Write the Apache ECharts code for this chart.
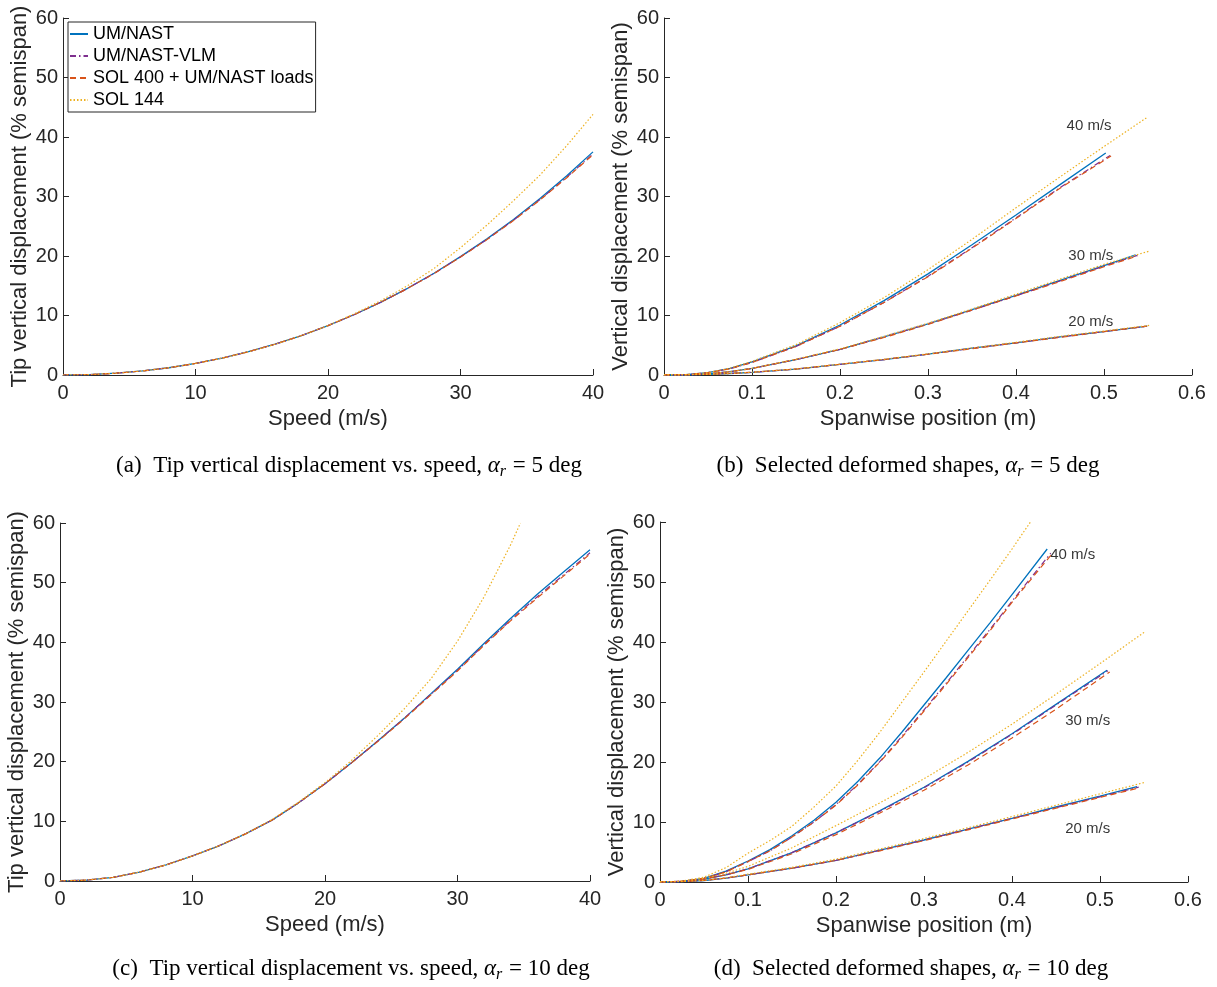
<!DOCTYPE html>
<html><head><meta charset="utf-8">
<script src="https://cdn.jsdelivr.net/npm/echarts@6/dist/echarts.min.js"></script>
<style>html,body{margin:0;padding:0;background:#fff;}#c{width:1217px;height:987px;}</style>
</head><body><div id="c"></div>
<script>
// ---------- data ----------
const NAMES = ['UM/NAST', 'UM/NAST-VLM', 'SOL 400 + UM/NAST loads', 'SOL 144'];

// (a) tip displacement vs speed, alpha = 5 deg
const SPEED = [0,2,4,6,8,10,12,14,16,18,20,22,24,26,28,30,32,34,36,38,40];
const A_NAST = [0,0.07,0.30,0.68,1.22,1.94,2.83,3.91,5.17,6.63,8.30,10.17,12.25,14.57,17.10,19.90,22.88,26.15,29.66,33.43,37.50];
const A_VLM  = [0,0.07,0.30,0.68,1.22,1.94,2.83,3.91,5.17,6.63,8.30,10.17,12.25,14.55,17.06,19.85,22.80,26.02,29.48,33.20,37.15];
const A_S400 = [0,0.07,0.30,0.68,1.22,1.94,2.83,3.91,5.17,6.63,8.30,10.16,12.24,14.54,17.04,19.82,22.76,25.97,29.42,33.12,37.02];
const A_S144 = [0,0.07,0.30,0.68,1.22,1.94,2.83,3.91,5.17,6.63,8.32,10.30,12.50,15.00,17.90,21.40,25.20,29.30,33.60,38.50,43.80];

// (c) tip displacement vs speed, alpha = 10 deg
const C_NAST = [0,0.15,0.6,1.5,2.7,4.2,5.9,7.9,10.2,13.1,16.3,19.8,23.5,27.3,31.4,35.5,39.8,44.0,48.0,51.8,55.5];
const C_VLM  = [0,0.15,0.6,1.5,2.7,4.2,5.9,7.9,10.2,13.1,16.3,19.8,23.5,27.3,31.3,35.3,39.6,43.7,47.6,51.3,55.0];
const C_S400 = [0,0.15,0.6,1.5,2.7,4.2,5.9,7.9,10.2,13.1,16.3,19.8,23.4,27.2,31.2,35.2,39.5,43.6,47.4,51.1,54.8];
const SPEED_C144 = [0,2,4,6,8,10,12,14,16,18,20,22,24,26,28,30,32,34,34.75];
const C_S144 = [0,0.15,0.6,1.5,2.7,4.2,5.9,7.9,10.3,13.2,16.5,20.2,24.4,28.9,33.9,40.2,47.6,56.3,60];

// (b) deformed shapes, alpha = 5 deg : [spanwise position (m), displacement (% semispan)]
const B40_NAST = [[0,0],[0.025,0.05],[0.05,0.4],[0.075,1.1],[0.1,2.2],[0.15,4.9],[0.2,8.4],[0.25,12.5],[0.3,17.0],[0.35,21.9],[0.4,26.9],[0.45,32.0],[0.502,37.3]];
const B40_VLM  = [[0,0],[0.025,0.05],[0.05,0.4],[0.075,1.05],[0.1,2.1],[0.15,4.8],[0.2,8.2],[0.25,12.2],[0.3,16.6],[0.35,21.4],[0.4,26.4],[0.45,31.5],[0.507,36.9]];
const B40_S400 = [[0,0],[0.025,0.05],[0.05,0.4],[0.075,1.05],[0.1,2.1],[0.15,4.8],[0.2,8.2],[0.25,12.2],[0.3,16.5],[0.35,21.3],[0.4,26.3],[0.45,31.4],[0.508,36.8]];
const B40_S144 = [[0,0],[0.025,0.05],[0.05,0.4],[0.075,1.15],[0.1,2.3],[0.15,5.1],[0.2,8.8],[0.25,13.0],[0.3,17.7],[0.35,22.8],[0.4,28.1],[0.45,33.3],[0.5,38.4],[0.55,43.4]];
const B30_NAST = [[0,0],[0.025,0.03],[0.05,0.2],[0.075,0.55],[0.1,1.1],[0.15,2.6],[0.2,4.3],[0.25,6.4],[0.3,8.6],[0.35,11.0],[0.4,13.4],[0.45,15.9],[0.5,18.4],[0.536,20.2]];
const B30_VLM  = [[0,0],[0.025,0.03],[0.05,0.2],[0.075,0.55],[0.1,1.1],[0.15,2.6],[0.2,4.3],[0.25,6.4],[0.3,8.6],[0.35,10.9],[0.4,13.3],[0.45,15.8],[0.5,18.3],[0.538,20.1]];
const B30_S400 = [[0,0],[0.025,0.03],[0.05,0.2],[0.075,0.55],[0.1,1.1],[0.15,2.6],[0.2,4.3],[0.25,6.3],[0.3,8.5],[0.35,10.9],[0.4,13.3],[0.45,15.7],[0.5,18.2],[0.538,20.0]];
const B30_S144 = [[0,0],[0.025,0.03],[0.05,0.2],[0.075,0.56],[0.1,1.12],[0.15,2.65],[0.2,4.4],[0.25,6.5],[0.3,8.7],[0.35,11.1],[0.4,13.6],[0.45,16.1],[0.5,18.6],[0.551,20.8]];
const B20_NAST = [[0,0],[0.025,0.02],[0.05,0.1],[0.075,0.25],[0.1,0.45],[0.15,1.0],[0.2,1.8],[0.25,2.6],[0.3,3.5],[0.35,4.5],[0.4,5.4],[0.45,6.4],[0.5,7.3],[0.549,8.2]];
const B20_VLM  = [[0,0],[0.025,0.02],[0.05,0.1],[0.075,0.25],[0.1,0.45],[0.15,1.0],[0.2,1.8],[0.25,2.6],[0.3,3.5],[0.35,4.5],[0.4,5.4],[0.45,6.4],[0.5,7.3],[0.549,8.2]];
const B20_S400 = [[0,0],[0.025,0.02],[0.05,0.1],[0.075,0.25],[0.1,0.45],[0.15,1.0],[0.2,1.8],[0.25,2.6],[0.3,3.5],[0.35,4.4],[0.4,5.4],[0.45,6.3],[0.5,7.3],[0.549,8.2]];
const B20_S144 = [[0,0],[0.025,0.02],[0.05,0.1],[0.075,0.25],[0.1,0.46],[0.15,1.02],[0.2,1.82],[0.25,2.65],[0.3,3.55],[0.35,4.55],[0.4,5.5],[0.45,6.5],[0.5,7.4],[0.552,8.35]];

// (d) deformed shapes, alpha = 10 deg
const D40_NAST = [[0,0],[0.025,0.1],[0.05,0.6],[0.075,1.8],[0.1,3.5],[0.125,5.4],[0.15,7.7],[0.175,10.3],[0.2,13.3],[0.225,16.8],[0.25,20.7],[0.275,25.0],[0.3,29.5],[0.325,34.0],[0.35,38.6],[0.375,43.2],[0.4,47.9],[0.44,55.5]];
const D40_VLM  = [[0,0],[0.025,0.1],[0.05,0.6],[0.075,1.7],[0.1,3.4],[0.125,5.2],[0.15,7.5],[0.175,10.0],[0.2,12.9],[0.225,16.3],[0.25,20.1],[0.275,24.3],[0.3,28.7],[0.325,33.1],[0.35,37.6],[0.375,42.1],[0.4,46.8],[0.444,54.8]];
const D40_S400 = [[0,0],[0.025,0.1],[0.05,0.6],[0.075,1.7],[0.1,3.4],[0.125,5.2],[0.15,7.5],[0.175,10.0],[0.2,12.8],[0.225,16.2],[0.25,20.0],[0.275,24.1],[0.3,28.5],[0.325,32.9],[0.35,37.4],[0.375,41.9],[0.4,46.6],[0.445,54.6]];
const D40_S144 = [[0,0],[0.025,0.15],[0.05,0.8],[0.075,2.4],[0.1,4.8],[0.125,6.9],[0.15,9.3],[0.175,12.5],[0.2,16.0],[0.225,20.3],[0.25,25.0],[0.275,30.0],[0.3,35.0],[0.325,40.1],[0.35,45.2],[0.375,50.3],[0.4,55.5],[0.421,60]];
const D30_NAST = [[0,0],[0.025,0.1],[0.05,0.5],[0.075,1.2],[0.1,2.2],[0.15,4.9],[0.2,8.2],[0.25,11.9],[0.3,15.8],[0.35,20.1],[0.4,24.7],[0.45,29.6],[0.508,35.3]];
const D30_VLM  = [[0,0],[0.025,0.1],[0.05,0.5],[0.075,1.2],[0.1,2.2],[0.15,4.9],[0.2,8.2],[0.25,11.8],[0.3,15.7],[0.35,20.0],[0.4,24.6],[0.45,29.5],[0.509,35.2]];
const D30_S400 = [[0,0],[0.025,0.1],[0.05,0.5],[0.075,1.2],[0.1,2.1],[0.15,4.7],[0.2,7.9],[0.25,11.5],[0.3,15.3],[0.35,19.5],[0.4,24.0],[0.45,28.8],[0.511,35.0]];
const D30_S144 = [[0,0],[0.025,0.12],[0.05,0.6],[0.075,1.45],[0.1,2.6],[0.15,5.7],[0.2,9.4],[0.25,13.2],[0.3,17.2],[0.35,21.6],[0.4,26.3],[0.45,31.3],[0.5,36.4],[0.551,41.7]];
const D20_NAST = [[0,0],[0.025,0.05],[0.05,0.25],[0.075,0.65],[0.1,1.2],[0.15,2.3],[0.2,3.6],[0.25,5.3],[0.3,7.0],[0.35,8.8],[0.4,10.6],[0.45,12.5],[0.5,14.3],[0.542,15.9]];
const D20_VLM  = [[0,0],[0.025,0.05],[0.05,0.25],[0.075,0.65],[0.1,1.2],[0.15,2.3],[0.2,3.6],[0.25,5.3],[0.3,7.0],[0.35,8.8],[0.4,10.6],[0.45,12.4],[0.5,14.2],[0.544,15.8]];
const D20_S400 = [[0,0],[0.025,0.05],[0.05,0.25],[0.075,0.65],[0.1,1.2],[0.15,2.3],[0.2,3.6],[0.25,5.2],[0.3,6.9],[0.35,8.7],[0.4,10.5],[0.45,12.3],[0.5,14.1],[0.545,15.7]];
const D20_S144 = [[0,0],[0.025,0.06],[0.05,0.28],[0.075,0.7],[0.1,1.3],[0.15,2.45],[0.2,3.8],[0.25,5.5],[0.3,7.25],[0.35,9.05],[0.4,10.9],[0.45,12.8],[0.5,14.7],[0.551,16.6]];

// speed labels [text, spanwise position, displacement]
const B_LABELS = [['40 m/s',0.483,41.8],['30 m/s',0.485,20.0],['20 m/s',0.485,8.9]];
const D_LABELS = [['40 m/s',0.469,54.6],['30 m/s',0.486,26.9],['20 m/s',0.486,8.8]];

const Y_TICKS = [0,10,20,30,40,50,60];

// ---------- styling ----------
const COLORS = ['#0072BD', '#7E2F8E', '#D95319', '#EDB120'];
const DASH = ['solid', [6, 3, 1.5, 3], [6, 4], [1.5, 2]];
const WIDTH = [1.3, 1.2, 1.2, 1.2];
const AX = '#262626';
const SANS = 'Liberation Sans, Arial, Helvetica, sans-serif';
const SERIF = 'Liberation Serif, Times New Roman, serif';

const chart = echarts.init(document.getElementById('c'), null, {renderer: 'canvas'});

const grids = [
  {left: 63, top: 18, width: 530, height: 357},
  {left: 664, top: 18, width: 528, height: 357},
  {left: 60, top: 523, width: 530, height: 358},
  {left: 660, top: 522, width: 528, height: 360}
];

function xAxis(i, min, max, interval, name) {
  return {
    type: 'value', gridIndex: i, min, max, interval, name,
    nameLocation: 'middle', nameGap: 33,
    nameTextStyle: {fontFamily: SANS, fontSize: 22, color: AX},
    axisLine: {show: true, onZero: false, lineStyle: {color: AX, width: 1}},
    axisTick: {show: true, inside: true, length: 6, lineStyle: {color: AX, width: 1}},
    axisLabel: {fontFamily: SANS, fontSize: 20, color: AX, margin: 8},
    splitLine: {show: false}
  };
}
function yAxis(i, name) {
  return {
    type: 'value', gridIndex: i, min: Y_TICKS[0], max: Y_TICKS[Y_TICKS.length - 1], interval: 10, name,
    nameLocation: 'middle', nameGap: 32,
    nameTextStyle: {fontFamily: SANS, fontSize: 22, color: AX},
    axisLine: {show: true, onZero: false, lineStyle: {color: AX, width: 1}},
    axisTick: {show: true, inside: true, length: 6, lineStyle: {color: AX, width: 1}},
    axisLabel: {fontFamily: SANS, fontSize: 20, color: AX, margin: 5},
    splitLine: {show: false}
  };
}

function line(k, gi, data) {
  return {
    type: 'line', name: NAMES[k], xAxisIndex: gi, yAxisIndex: gi, data,
    symbol: 'none', showSymbol: false, smooth: false,
    lineStyle: {color: COLORS[k], width: WIDTH[k], type: DASH[k]},
    itemStyle: {color: COLORS[k]}, clip: true, animation: false
  };
}
function zipXY(xs, ys) { return xs.map((x, i) => [x, ys[i]]); }
function labels(gi, arr) {
  return {
    type: 'scatter', xAxisIndex: gi, yAxisIndex: gi, symbolSize: 1, silent: true,
    itemStyle: {color: 'rgba(0,0,0,0)'}, animation: false,
    data: arr.map(a => ({value: [a[1], a[2]], name: a[0]})),
    label: {show: true, position: 'inside', formatter: p => p.name,
            fontFamily: SANS, fontSize: 15, color: '#000'}
  };
}

const series = [];
[A_NAST, A_VLM, A_S400, A_S144].forEach((ys, k) => series.push(line(k, 0, zipXY(SPEED, ys))));
[[B40_NAST,B30_NAST,B20_NAST],[B40_VLM,B30_VLM,B20_VLM],[B40_S400,B30_S400,B20_S400],[B40_S144,B30_S144,B20_S144]]
  .forEach((set, k) => set.forEach(d => series.push(line(k, 1, d))));
[C_NAST, C_VLM, C_S400].forEach((ys, k) => series.push(line(k, 2, zipXY(SPEED, ys))));
series.push(line(3, 2, zipXY(SPEED_C144, C_S144)));
[[D40_NAST,D30_NAST,D20_NAST],[D40_VLM,D30_VLM,D20_VLM],[D40_S400,D30_S400,D20_S400],[D40_S144,D30_S144,D20_S144]]
  .forEach((set, k) => set.forEach(d => series.push(line(k, 3, d))));
series.push(labels(1, B_LABELS));
series.push(labels(3, D_LABELS));

function caption(x, y, prefix, alpha) {
  return {
    type: 'text', x, y, silent: true,
    style: {
      text: '{n|' + prefix + '}{i|α}{s|r}{n| = ' + alpha + ' deg}',
      align: 'center', verticalAlign: 'middle',
      rich: {
        n: {fontFamily: SERIF, fontSize: 23, fill: '#000', lineHeight: 28, verticalAlign: 'middle'},
        i: {fontFamily: SERIF, fontSize: 23, fontStyle: 'italic', fill: '#000', lineHeight: 28, verticalAlign: 'middle'},
        s: {fontFamily: SERIF, fontSize: 16, fontStyle: 'italic', fill: '#000', verticalAlign: 'bottom', padding: [0, 1, 0, 0]}
      }
    }
  };
}

chart.setOption({
  animation: false,
  backgroundColor: '#fff',
  grid: grids,
  xAxis: [
    xAxis(0, 0, 40, 10, 'Speed (m/s)'),
    xAxis(1, 0, 0.6, 0.1, 'Spanwise position (m)'),
    xAxis(2, 0, 40, 10, 'Speed (m/s)'),
    xAxis(3, 0, 0.6, 0.1, 'Spanwise position (m)')
  ],
  yAxis: [
    yAxis(0, 'Tip vertical displacement (% semispan)'),
    yAxis(1, 'Vertical displacement (% semispan)'),
    yAxis(2, 'Tip vertical displacement (% semispan)'),
    yAxis(3, 'Vertical displacement (% semispan)')
  ],
  legend: {
    show: true, data: NAMES, orient: 'vertical', left: 68, top: 22,
    itemWidth: 18, itemHeight: 18, itemGap: 4, padding: [3, 2, 3, 1],
    borderColor: AX, borderWidth: 1, backgroundColor: '#fff', borderRadius: 0,
    itemStyle: {opacity: 0, borderWidth: 0},
    textStyle: {fontFamily: SANS, fontSize: 18, color: '#000', lineHeight: 18},
    selectedMode: false
  },
  graphic: [
    caption(349, 466, '(a)  Tip vertical displacement vs. speed, ', 5),
    caption(908, 466, '(b)  Selected deformed shapes, ', 5),
    caption(351, 969, '(c)  Tip vertical displacement vs. speed, ', 10),
    caption(911, 969, '(d)  Selected deformed shapes, ', 10)
  ],
  series
});
</script>
</body></html>
